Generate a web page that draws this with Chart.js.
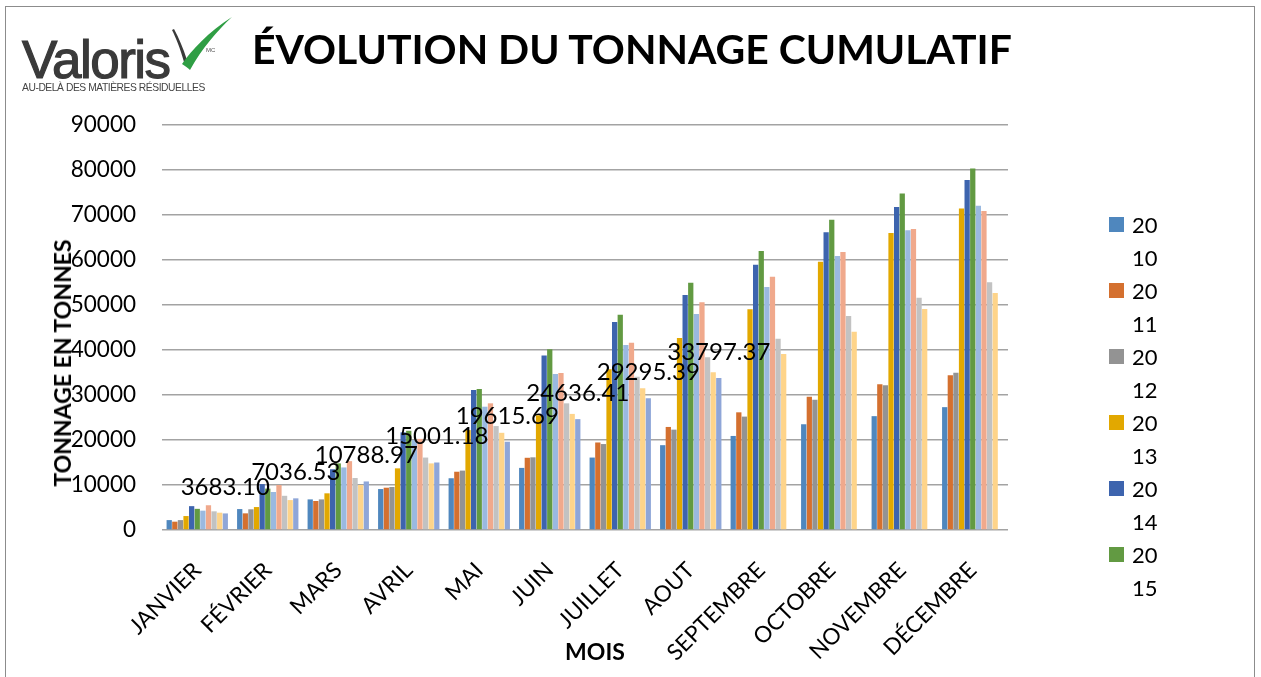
<!DOCTYPE html>
<html lang="fr">
<head>
<meta charset="utf-8">
<script src="https://cdn.jsdelivr.net/npm/chart.js@4.4.1/dist/chart.umd.min.js"></script>
<style>
  html, body { margin:0; padding:0; background:#fff; }
  body { width:1261px; height:677px; position:relative; overflow:hidden; font-family: Lato, "Open Sans", sans-serif; }
  #frame { position:absolute; left:5px; top:6px; width:1250px; height:720px; border:1px solid #8c8c8c; box-sizing:border-box; }
  #wrap { position:absolute; left:0; top:0; width:1261px; height:677px; }
  #title { position:absolute; left:252px; top:29px; font-family: Lato, sans-serif; font-weight:700; font-size:42px; color:#000; white-space:nowrap; line-height:1; }
  #logo { position:absolute; left:22px; top:14px; width:230px; height:90px; }
  #logo .name { position:absolute; left:0; top:19px; font-family:"Liberation Sans", Arial, sans-serif; font-weight:400; font-size:53px; letter-spacing:-1.5px; color:#3a3a3a; -webkit-text-stroke:1.2px #3a3a3a; line-height:1; }
  #logo .mc { position:absolute; left:184px; top:33px; font-family:"Liberation Sans", Arial, sans-serif; font-size:6px; color:#555; }
  #logo .tag { position:absolute; left:0; top:68px; font-family:"Liberation Sans", Arial, sans-serif; font-size:10.3px; color:#444; white-space:nowrap; letter-spacing:-0.45px; }
  #logo svg { position:absolute; left:140px; top:0; }
  #ytitle { position:absolute; left:62px; top:363px; transform:translate(-50%,-50%) rotate(-90deg); font-family:Lato, sans-serif; font-weight:700; font-size:23px; white-space:nowrap; color:#000; }
  #xtitle { position:absolute; left:595px; top:651px; transform:translate(-50%,-50%); font-family:Lato, sans-serif; font-weight:700; font-size:23px; white-space:nowrap; color:#000; }
  #legend { position:absolute; left:1109px; top:208px; font-family:Lato, sans-serif; font-size:22px; color:#000; }
  #legend .item { display:flex; align-items:flex-start; height:66px; }
  #legend .sw { width:15px; height:15px; margin-top:9px; margin-right:8px; flex:none; }
  #legend .txt { width:26px; word-break:break-all; line-height:33px; }
</style>
</head>
<body>
<div id="frame"></div>
<div id="wrap"><canvas id="c" width="1261" height="677"></canvas></div>
<div id="logo">
  <svg width="90" height="60" viewBox="0 0 90 60">
    <path d="M10 16 C 14 24, 18 34, 22 48 L 25 46 C 21 34, 17 24, 12 15 Z" fill="#3a3a3a"/>
    <path d="M20 50 C 30 36, 46 18, 70 3 C 56 16, 40 34, 28 56 C 26 54, 23 52, 20 50 Z" fill="#2f9e44"/>
  </svg>
  <div class="name">Valoris</div>
  <div class="mc">MC</div>
  <div class="tag">AU-DELÀ DES MATIÈRES RÉSIDUELLES</div>
</div>
<div id="title">ÉVOLUTION DU TONNAGE CUMULATIF</div>
<div id="ytitle">TONNAGE EN TONNES</div>
<div id="xtitle">MOIS</div>
<div id="legend"></div>
<script>
// ---- DATA ----
const months = ['JANVIER','FÉVRIER','MARS','AVRIL','MAI','JUIN','JUILLET','AOUT','SEPTEMBRE','OCTOBRE','NOVEMBRE','DÉCEMBRE'];
const years = ['2010','2011','2012','2013','2014','2015','2016','2017','2018','2019','2020'];
const legendYears = ['2010','2011','2012','2013','2014','2015'];
const yTicks = [0,10000,20000,30000,40000,50000,60000,70000,80000,90000];

const t2010 = [2200, 4650, 6800, 9100, 11500, 13800, 16100, 18850, 20900, 23500, 25300, 27300];
const t2011 = [1850, 3700, 6450, 9400, 12950, 16050, 19450, 22900, 26150, 29600, 32400, 34400];
const t2012 = [2200, 4600, 6800, 9550, 13200, 16150, 19100, 22300, 25200, 28950, 32150, 34950];
const t2013 = [3100, 5100, 8150, 13700, 22200, 25500, 35700, 42650, 49050, 59600, 66000, 71450];
const t2014 = [5300, 10200, 13500, 21700, 31100, 38800, 46200, 52200, 58950, 66150, 71800, 77800];
const t2015 = [4700, 9200, 14800, 22050, 31350, 40150, 47850, 54950, 62000, 68950, 74800, 80350];
const t2016 = [4300, 8450, 13900, 20000, 27400, 34650, 41100, 48000, 54000, 60900, 66600, 72050];
const t2017 = [5500, 10000, 15300, 20250, 28150, 34900, 41600, 50600, 56300, 61800, 66900, 70900];
const t2018 = [4150, 7600, 11550, 16100, 23100, 28150, 34050, 38400, 42500, 47550, 51600, 55050];
const t2019 = [3850, 6650, 10000, 14800, 21600, 25800, 31500, 35050, 39100, 44050, 49100, 52650];
const t2020 = [3683.10, 7036.53, 10788.97, 15001.18, 19615.69, 24636.41, 29295.39, 33797.37, null, null, null, null];

const seriesValues = [t2010,t2011,t2012,t2013,t2014,t2015,t2016,t2017,t2018,t2019,t2020];
const colors = ['#4F87BE','#D4702F','#939393','#E2A800','#3D64AE','#629A42','#9AB9E0','#F0A98C','#C2C2C2','#FED48A','#8FA6D8'];

// ---- LEGEND (HTML) ----
const lg = document.getElementById('legend');
legendYears.forEach(y => {
  const i = years.indexOf(y);
  const it = document.createElement('div'); it.className='item';
  const sw = document.createElement('div'); sw.className='sw'; sw.style.background = colors[i];
  const tx = document.createElement('div'); tx.className='txt'; tx.textContent = y;
  it.appendChild(sw); it.appendChild(tx); lg.appendChild(it);
});

// fit title width
(function(){
  const t = document.getElementById('title');
  const target = 760;
  const w = t.getBoundingClientRect().width;
  if (w > 0) t.style.fontSize = (42 * target / w).toFixed(2) + 'px';
})();

const labelPlugin = {
  id: 'barLabels',
  afterDatasetsDraw(chart) {
    const ctx = chart.ctx;
    const di = chart.data.datasets.length - 1;
    const meta = chart.getDatasetMeta(di);
    const data = chart.data.datasets[di].data;
    ctx.save();
    ctx.font = '24px Lato';
    ctx.fillStyle = '#000';
    ctx.textAlign = 'center';
    ctx.textBaseline = 'alphabetic';
    meta.data.forEach((el, i) => {
      const v = data[i];
      if (v == null) return;
      ctx.fillText(v.toFixed(2), el.x, el.y - 18);
    });
    ctx.restore();
  }
};

const datasets = years.map((y, i) => ({
  label: y,
  data: seriesValues[i],
  backgroundColor: colors[i],
  borderWidth: 0,
  categoryPercentage: 0.875,
  barPercentage: 0.94
}));

new Chart(document.getElementById('c'), {
  type: 'bar',
  data: { labels: months, datasets },
  options: {
    responsive: false,
    animation: false,
    devicePixelRatio: 1,
    layout: { padding: { left: 46, right: 253, top: 125, bottom: 0 } },
    plugins: { legend: { display: false }, tooltip: { enabled: false }, title: { display: false } },
    scales: {
      x: {
        grid: { display: false, drawTicks: false },
        border: { display: false },
        ticks: { color: '#000', font: { family: 'Lato', size: 22.5 }, minRotation: 45, maxRotation: 45, autoSkip: false, padding: 27 },
        afterFit(scale) { scale.height = 147; }
      },
      y: {
        min: 0, max: 90000,
        afterBuildTicks(scale) { scale.ticks = yTicks.map(v => ({ value: v })); },
        grid: { color: '#A3A3A3', lineWidth: 1.5, drawTicks: false },
        border: { display: false },
        ticks: { color: '#000', font: { family: 'Lato', size: 22.5 }, padding: 26, callback: v => String(v) },
        afterFit(scale) { scale.width = 116; }
      }
    }
  },
  plugins: [labelPlugin]
});
</script>
</body>
</html>
